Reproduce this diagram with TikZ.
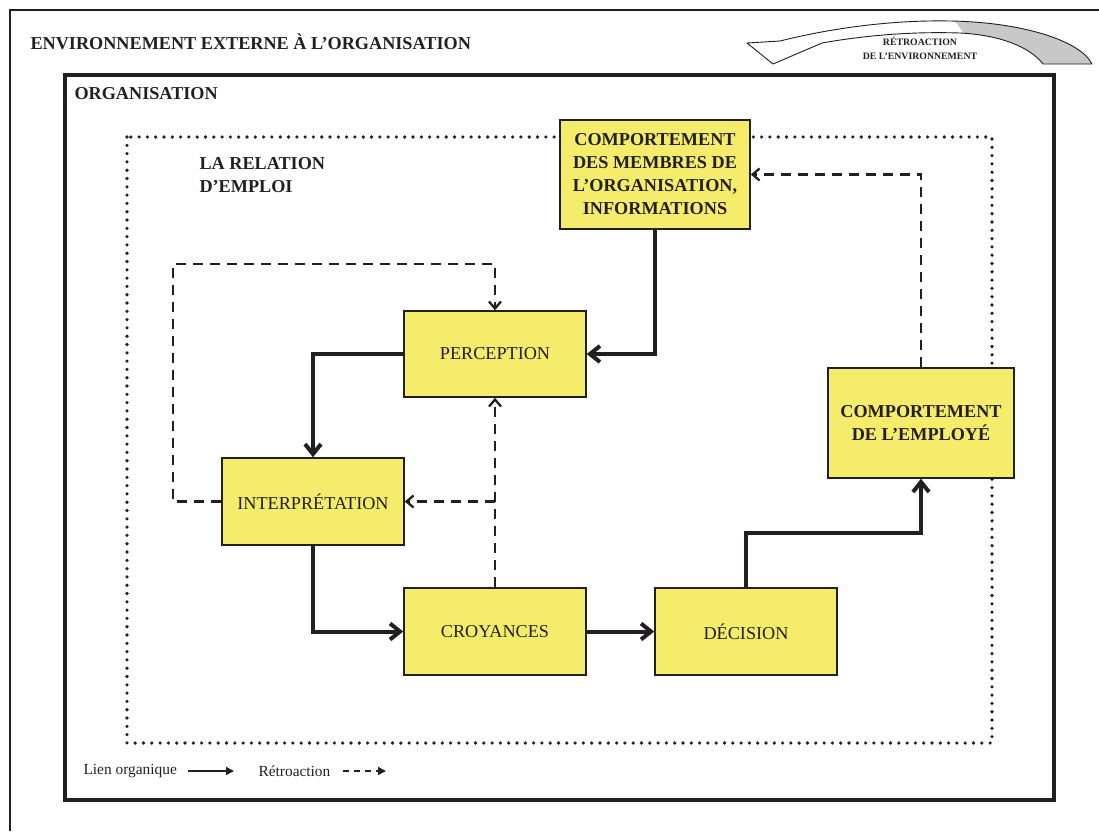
\documentclass[tikz,border=0pt]{standalone}
\usepackage{fontspec}
\setmainfont{Liberation Serif}
\usetikzlibrary{arrows.meta,calc}
\definecolor{ink}{HTML}{231F20}
\definecolor{boxy}{HTML}{F6EC6B}
\definecolor{shade}{HTML}{C8C8C8}

\begin{document}
\begin{tikzpicture}[x=1pt,y=-1pt,
  stage/.style={draw=ink, line width=1.5pt, fill=boxy, text=ink, align=center,
    inner sep=2pt, font=\fontsize{18.2}{23}\selectfont},
  organic/.style={draw=ink, line width=4pt,
    -{Straight Barb[length=10pt,width=16pt]}},
  feedback/.style={draw=ink, line width=2.3pt, dash pattern=on 10pt off 7pt,
    -{Straight Barb[length=7pt,width=12pt]}},
  title/.style={text=ink, anchor=west, font=\bfseries\fontsize{18.2}{23}\selectfont},
  legend/.style={text=ink, anchor=west, font=\fontsize{15.4}{18}\selectfont}
]
\useasboundingbox (0,0) rectangle (1099,831);

% outer environment frame
\draw[ink, line width=2pt] (10,831) -- (10,10) -- (1099,10);
\node[title] (env) at (27,42) {ENVIRONNEMENT EXTERNE À L’ORGANISATION};

% environment feedback arrow (curved band)
\path[fill=white] (747,43) -- (780,41) .. controls (840,26) and (900,20) .. (950,21)
  .. controls (1020,22) and (1080,40) .. (1092,64) -- (1043,64)
  .. controls (1030,47) and (1000,35) .. (960,33)
  .. controls (900,31) and (850,38) .. (822,43) -- (773,64) -- cycle;
\begin{scope}
  \clip (940,0) -- (1099,0) -- (1099,70) -- (990,70) -- cycle;
  \path[fill=shade] (780,41) .. controls (840,26) and (900,20) .. (950,21)
    .. controls (1020,22) and (1080,40) .. (1092,64) -- (1043,64)
    .. controls (1030,47) and (1000,35) .. (960,33)
    .. controls (900,31) and (850,38) .. (822,43) -- cycle;
\end{scope}
\draw[ink, line width=0.9pt, line join=round] (747,43) -- (780,41)
  .. controls (840,26) and (900,20) .. (950,21)
  .. controls (1020,22) and (1080,40) .. (1092,64) -- (1043,64)
  .. controls (1030,47) and (1000,35) .. (960,33)
  .. controls (900,31) and (850,38) .. (822,43) -- (773,64) -- cycle;
\node[text=ink, align=center, font=\bfseries\fontsize{9.8}{14}\selectfont]
  (envfb) at (920,48) {RÉTROACTION\\DE L’ENVIRONNEMENT};

% organisation frame
\draw[ink, line width=4pt] (65,75) rectangle (1054,800);
\node[title] (org) at (71,94) {ORGANISATION};

% employment relation boundary
\draw[ink, line width=3.6pt, line cap=round, dash pattern=on 0pt off 8.3pt]
  (127,137) rectangle (992,743);
\node[title, align=left, anchor=north west] (rel) at (196,154) {LA RELATION\\D’EMPLOI};

% stages
\node[stage, minimum width=190pt, minimum height=109pt, font=\bfseries\fontsize{18.2}{23}\selectfont]
  (membres) at (655,174.5) {COMPORTEMENT\\DES MEMBRES DE\\L’ORGANISATION,\\INFORMATIONS};
\node[stage, minimum width=182pt, minimum height=86pt] (perc) at (495,354) {PERCEPTION};
\node[stage, minimum width=182pt, minimum height=87pt] (interp) at (313,501.5) {INTERPRÉTATION};
\node[stage, minimum width=182pt, minimum height=87pt] (croy) at (495,631.5) {CROYANCES};
\node[stage, minimum width=182pt, minimum height=87pt] (dec) at (746,631.5) {DÉCISION};
\node[stage, minimum width=186pt, minimum height=110pt, font=\bfseries\fontsize{18.2}{23}\selectfont]
  (employe) at (921,423) {COMPORTEMENT\\DE L’EMPLOYÉ};

% organic links
\draw[organic] (membres.south) |- (perc.east);
\draw[organic] (perc.west) -| (interp.north);
\draw[organic] (interp.south) |- (croy.west);
\draw[organic] (croy.east) -- (dec.west);
\coordinate (decup) at (746,533);
\draw[organic] (dec.north) -- (decup) -| (employe.south);

% feedback links
\coordinate (loopL) at (173,264);
\draw[feedback] (interp.west) -| (loopL) -| (perc.north);
\draw[feedback] (croy.north) -- (perc.south);
\coordinate (junc) at (495,501.5);
\draw[feedback] (junc) -- (interp.east);
\draw[feedback] (employe.north) |- (membres.east);

% legend
\node[legend] (lg1) at (80,771) {Lien organique};
\coordinate (l1a) at (188,771);
\coordinate (l1b) at (234,771);
\draw[ink, line width=1.4pt, -{Triangle[length=8pt,width=8pt]}] (l1a) -- (l1b);
\node[legend] (lg2) at (255,771) {Rétroaction};
\coordinate (l2a) at (343,771);
\coordinate (l2b) at (386,771);
\draw[ink, line width=1.4pt, dash pattern=on 6pt off 5pt,
  -{Triangle[length=8pt,width=8pt]}] (l2a) -- (l2b);
\end{tikzpicture}
\end{document}
